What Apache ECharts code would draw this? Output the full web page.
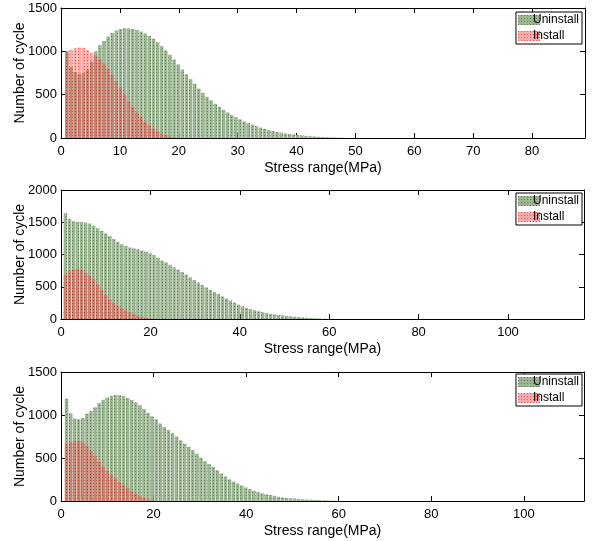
<!DOCTYPE html>
<html>
<head>
<meta charset="utf-8">
<script src="https://cdn.jsdelivr.net/npm/echarts@6/dist/echarts.min.js"></script>
<style>
html,body{margin:0;padding:0;background:#fff;}
#chart{width:593px;height:541px;}
</style>
</head>
<body>
<div id="chart"></div>
<script>
// ---------- DATA ----------
var seriesNames = ['Uninstall', 'Install'];
var xTitle = 'Stress range(MPa)';
var yTitle = 'Number of cycle';

// Panel 1
var p1Bins = [1.0,1.7,2.4,3.1,3.8,4.5,5.2,5.9,6.6,7.3,8.0,8.7,9.4,10.1,10.8,11.5,12.2,12.9,13.6,14.3,15.0,15.7,16.4,17.1,17.8,18.5,19.2,19.9,20.6,21.3,22.0,22.7,23.4,24.1,24.8,25.5,26.2,26.9,27.6,28.3,29.0,29.7,30.4,31.1,31.8,32.5,33.2,33.9,34.6,35.3,36.0,36.7,37.4,38.1,38.8,39.5,40.2,40.9,41.6,42.3,43.0,43.7,44.4,45.1,45.8,46.5,47.2,47.9];
var p1Uninstall = [1000,820,760,740,750,790,880,1000,1070,1120,1170,1210,1240,1258,1268,1266,1258,1245,1228,1205,1178,1145,1105,1060,1010,960,905,850,790,735,680,625,570,520,475,435,395,360,325,295,265,240,215,192,172,153,136,120,106,93,81,70,61,53,46,40,34,29,25,21,18,15,12,10,8,6,5,4];
var p1Install = [1000,1020,1035,1045,1040,1015,985,950,905,855,800,730,655,575,500,425,355,295,240,190,145,108,78,52,33,18,8,3];

// Panel 2
var p2Bins = [1.0,1.9,2.8,3.7,4.6,5.5,6.4,7.3,8.2,9.1,10.0,10.9,11.8,12.7,13.6,14.5,15.4,16.3,17.2,18.1,19.0,19.9,20.8,21.7,22.6,23.5,24.4,25.3,26.2,27.1,28.0,28.9,29.8,30.7,31.6,32.5,33.4,34.3,35.2,36.1,37.0,37.9,38.8,39.7,40.6,41.5,42.4,43.3,44.2,45.1,46.0,46.9,47.8,48.7,49.6,50.5,51.4,52.3,53.2,54.1,55.0,55.9,56.8,57.7,58.6];
var p2Uninstall = [1640,1550,1515,1505,1500,1495,1480,1445,1405,1365,1325,1285,1240,1195,1160,1130,1110,1095,1080,1062,1045,1021,990,950,905,880,840,800,765,730,690,648,605,565,528,490,455,420,385,350,318,286,255,223,196,172,152,135,120,105,92,80,70,62,55,48,42,36,30,24,18,13,9,6,4];
var p2Install = [690,740,765,775,760,720,670,610,540,455,370,300,245,200,165,130,100,75,52,33,17,6];

// Panel 3
var p3Bins = [1.2,2.08,2.96,3.84,4.72,5.6,6.48,7.36,8.24,9.12,10.0,10.88,11.76,12.64,13.52,14.4,15.28,16.16,17.04,17.92,18.8,19.68,20.56,21.44,22.32,23.2,24.08,24.96,25.84,26.72,27.6,28.48,29.36,30.24,31.12,32.0,32.88,33.76,34.64,35.52,36.4,37.28,38.16,39.04,39.92,40.8,41.68,42.56,43.44,44.32,45.2,46.08,46.96,47.84,48.72,49.6,50.48,51.36,52.24,53.12,54.0,54.88,55.76,56.64,57.52,58.4,59.28];
var p3Uninstall = [1190,1020,960,950,965,1015,1045,1090,1138,1176,1203,1222,1235,1232,1218,1198,1175,1148,1112,1070,1025,985,950,900,860,826,790,750,705,665,628,590,550,505,462,430,397,358,320,285,252,226,203,180,158,138,120,104,90,78,69,60,50,42,36,31,28,24,20,17,15,13,11,9,7,5,3];
var p3Install = [660,685,700,698,680,640,585,520,455,400,350,305,262,222,185,150,115,85,58,38,22,10];

// axis settings per panel
var xMax = [89, 117, 113];
var xStep = [10, 20, 20];
var yMax = [1500, 2000, 1500];
var yStep = [500, 500, 500];

// ---------- LAYOUT / STYLE ----------
var FONT = 'Liberation Sans, Arial, Helvetica, sans-serif';
var GREEN = '#9cb694';
var RED = 'rgba(245,70,70,0.45)';
var GREEN_DECAL = {symbol: 'rect', symbolSize: 1, color: 'rgba(45,80,35,0.55)',
  dashArrayX: [1, 2], dashArrayY: [1, 2], rotation: 0};
var RED_DECAL = {symbol: 'rect', symbolSize: 1, color: 'rgba(225,20,20,0.6)',
  dashArrayX: [1, 2], dashArrayY: [1, 2], rotation: 0};
var grids = [
  {left: 61, top: 8, width: 524, height: 130, outerBoundsMode: 'none', containLabel: false},
  {left: 61, top: 190, width: 523, height: 129, outerBoundsMode: 'none', containLabel: false},
  {left: 61, top: 372, width: 523, height: 129, outerBoundsMode: 'none', containLabel: false}
];
var barW = [3.5, 3.4, 3.5];
var panels = [
  {bins: p1Bins, u: p1Uninstall, i: p1Install},
  {bins: p2Bins, u: p2Uninstall, i: p2Install},
  {bins: p3Bins, u: p3Uninstall, i: p3Install}
];

function zip(xs, ys) {
  var out = [];
  for (var k = 0; k < ys.length; k++) out.push([xs[k], ys[k]]);
  return out;
}

var xAxis = [], yAxis = [], series = [], legend = [];
var legendTop = [12, 193, 374];
panels.forEach(function (p, g) {
  var lineStyle = {color: '#000', width: 1};
  var step = xStep[g];
  xAxis.push({
    type: 'value', gridIndex: g, position: 'bottom', min: 0, max: xMax[g], interval: step,
    name: xTitle, nameLocation: 'middle', nameGap: 23, nameMoveOverlap: false,
    nameTextStyle: {fontFamily: FONT, fontSize: 14, color: '#000'},
    axisLine: {show: true, onZero: false, lineStyle: lineStyle},
    axisTick: {show: true, inside: true, length: 5, lineStyle: lineStyle},
    axisLabel: {fontFamily: FONT, fontSize: 13, color: '#000', margin: 7, showMaxLabel: false,
      formatter: function (v) { return (v % step === 0) ? String(v) : ''; }},
    splitLine: {show: false}
  });
  xAxis.push({
    type: 'value', gridIndex: g, position: 'top', min: 0, max: xMax[g], interval: step,
    axisLine: {show: true, onZero: false, lineStyle: lineStyle},
    axisTick: {show: true, inside: true, length: 5, lineStyle: lineStyle},
    axisLabel: {show: false}, splitLine: {show: false}
  });
  yAxis.push({
    type: 'value', gridIndex: g, position: 'left', min: 0, max: yMax[g], interval: yStep[g],
    name: yTitle, nameLocation: 'middle', nameGap: 34, nameRotate: 90, nameMoveOverlap: false,
    nameTextStyle: {fontFamily: FONT, fontSize: 14, color: '#000'},
    axisLine: {show: true, onZero: false, lineStyle: lineStyle},
    axisTick: {show: true, inside: true, length: 5, lineStyle: lineStyle},
    axisLabel: {fontFamily: FONT, fontSize: 13, color: '#000', margin: 4,
      formatter: function (v) { return String(v); }},
    splitLine: {show: false}
  });
  yAxis.push({
    type: 'value', gridIndex: g, position: 'right', min: 0, max: yMax[g], interval: yStep[g],
    axisLine: {show: true, onZero: false, lineStyle: lineStyle},
    axisTick: {show: true, inside: true, length: 5, lineStyle: lineStyle},
    axisLabel: {show: false}, splitLine: {show: false}
  });
  series.push({
    type: 'bar', name: seriesNames[0], xAxisIndex: 2 * g, yAxisIndex: 2 * g,
    data: zip(p.bins, p.u), barWidth: barW[g], barGap: '-100%',
    itemStyle: {color: GREEN, decal: GREEN_DECAL}, silent: true, animation: false
  });
  series.push({
    type: 'bar', name: seriesNames[1], xAxisIndex: 2 * g, yAxisIndex: 2 * g,
    data: zip(p.bins, p.i), barWidth: barW[g], barGap: '-100%',
    itemStyle: {color: RED, decal: RED_DECAL}, silent: true, animation: false
  });
  legend.push({
    orient: 'vertical', right: 11, top: legendTop[g],
    data: seriesNames, icon: 'rect', itemWidth: 22, itemHeight: 10, itemGap: 4,
    padding: [2, 3, 2, 2], borderColor: '#000', borderWidth: 1, backgroundColor: '#fff',
    selectedMode: false,
    textStyle: {fontFamily: FONT, fontSize: 12, color: '#000', padding: [0, 0, 0, -12]}
  });
});

var chart = echarts.init(document.getElementById('chart'), null, {renderer: 'canvas'});
chart.setOption({
  animation: false,
  backgroundColor: '#fff',
  aria: {enabled: false, decal: {show: false}},
  grid: grids,
  xAxis: xAxis,
  yAxis: yAxis,
  legend: legend,
  series: series
});
</script>
</body>
</html>
